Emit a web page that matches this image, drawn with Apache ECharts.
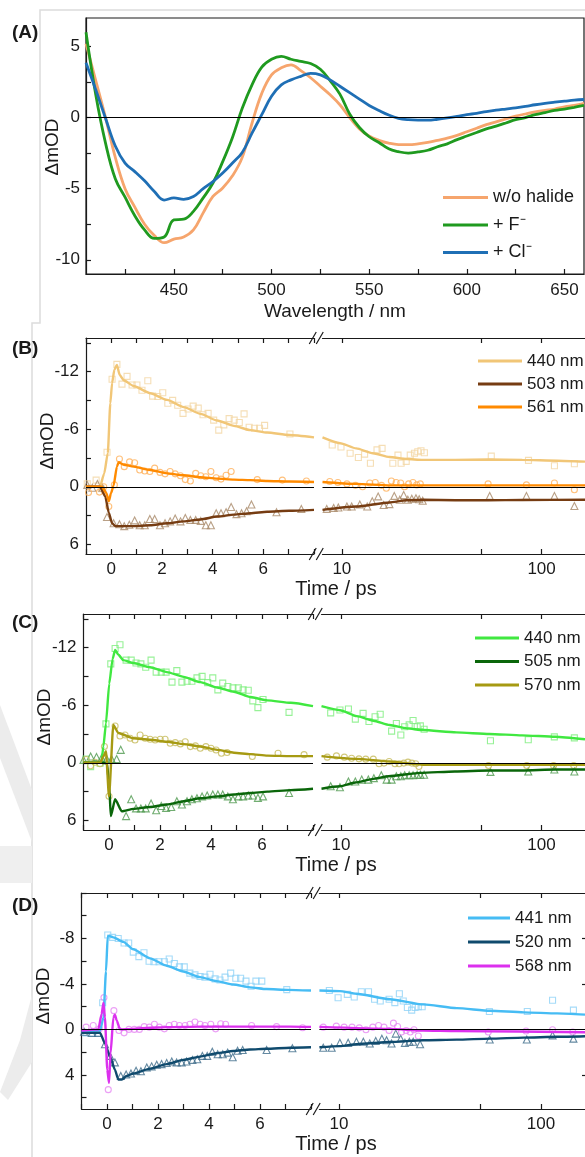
<!DOCTYPE html>
<html>
<head>
<meta charset="utf-8">
<script src="https://cdn.jsdelivr.net/npm/echarts@6.0.0/dist/echarts.min.js"></script>
<style>
  html, body { margin: 0; padding: 0; background: #fff; }
  #chart { width: 585px; height: 1157px; }
</style>
</head>
<body>
<div id="chart"></div>
<script>
// ---- (A) steady spectra ----
const wavelength = [405,410,415,420,425,430,435,440,445,450,455,460,465,470,475,480,485,490,495,500,505,510,515,520,525,530,535,540,545,550,555,560,565,570,575,580,585,590,595,600,605,610,615,620,625,630,635,640,645,650,655,660];
const noHalide = [5.2,2.6,0.0,-2.8,-5.0,-6.3,-7.5,-8.3,-8.8,-8.55,-8.4,-7.9,-6.7,-5.55,-4.95,-4.1,-2.8,-0.4,1.7,3.0,3.5,3.7,3.3,2.8,2.2,1.6,0.9,0.0,-0.8,-1.3,-1.6,-1.8,-1.9,-1.9,-1.85,-1.75,-1.6,-1.45,-1.25,-1.0,-0.75,-0.5,-0.3,-0.1,0.1,0.25,0.4,0.5,0.6,0.75,0.85,1.0];
const withF = [6.0,1.6,-1.8,-4.3,-5.6,-6.9,-7.9,-8.5,-8.4,-7.2,-7.15,-6.6,-5.65,-4.6,-3.1,-1.4,0.65,2.3,3.55,4.1,4.3,4.1,3.95,3.8,3.4,2.6,1.65,0.25,-0.7,-1.35,-1.75,-2.2,-2.4,-2.5,-2.42,-2.3,-2.05,-1.85,-1.55,-1.3,-1.05,-0.8,-0.6,-0.38,-0.15,0.0,0.2,0.35,0.5,0.6,0.72,0.85];
const withCl = [3.85,1.95,-0.05,-2.0,-3.2,-3.8,-4.45,-5.2,-5.8,-5.65,-5.75,-5.55,-5.0,-4.5,-3.9,-3.2,-2.45,-1.1,0.2,1.5,2.3,2.65,2.9,3.1,3.0,2.65,2.2,1.75,1.3,0.85,0.5,0.18,-0.05,-0.15,-0.18,-0.18,-0.12,-0.03,0.08,0.2,0.3,0.42,0.52,0.6,0.68,0.78,0.9,1.0,1.08,1.15,1.22,1.27];

// ---- (B) kinetics: [time ps, dmOD] ----
const b440Fit = [[-1,0],[-0.45,0],[-0.28,-1.4],[-0.14,-3.5],[-0.04,-8.7],[0.03,-10.8],[0.12,-12.2],[0.22,-12.7],[0.33,-11.65],[0.49,-11.1],[0.88,-10.5],[1.54,-9.75],[2.2,-9.05],[2.86,-8.3],[3.52,-7.6],[4.18,-6.9],[4.84,-6.35],[5.49,-5.9],[6.15,-5.65],[7.02,-5.4],[8,-5.15],[9.8,-4.55],[11.8,-4.0],[14.3,-3.5],[17.3,-3.1],[21,-2.9],[25.4,-2.8],[37,-2.8],[54,-2.85],[80,-2.8],[120,-2.72],[165,-2.62]];
const b440Pts = [[-0.95,-0.3],[-0.6,-0.7],[-0.4,0.2],[-0.17,-3.6],[0.03,-11.2],[0.22,-12.75],[0.42,-10.7],[0.62,-11.5],[0.82,-10.6],[1.01,-10.6],[1.21,-10.05],[1.44,-11.05],[1.63,-9.45],[1.83,-9.4],[2.03,-9.8],[2.23,-8.7],[2.42,-9.0],[2.62,-8.5],[2.83,-7.65],[3.03,-8.1],[3.23,-8.4],[3.43,-8.2],[3.62,-7.5],[3.82,-7.65],[4.04,-6.95],[4.24,-5.9],[4.44,-6.45],[4.65,-7.1],[4.85,-6.95],[5.05,-6.7],[5.24,-7.6],[5.44,-6.2],[5.65,-6.1],[5.85,-6.1],[6.05,-6.4],[7.05,-5.5],[8.95,-4.35],[9.9,-4.15],[11.0,-3.5],[12.1,-3.05],[13.0,-3.4],[13.9,-2.45],[15.0,-3.85],[15.9,-4.0],[18.0,-2.45],[19.1,-3.3],[19.8,-2.45],[21.0,-2.65],[22.0,-3.3],[23.1,-3.5],[24.0,-3.65],[24.9,-3.75],[25.9,-3.55],[56,-3.2],[86,-2.75],[116,-2.2],[146,-2.4]];
const b503Fit = [[-1,0],[-0.45,0],[-0.24,1.0],[-0.1,2.7],[0.03,3.8],[0.16,4.1],[0.88,4.1],[1.54,4.0],[2.2,3.8],[2.86,3.6],[3.52,3.4],[4.18,3.1],[4.84,2.9],[5.49,2.75],[6.15,2.6],[7.02,2.5],[8,2.4],[11.8,2.05],[17.3,1.63],[21,1.4],[25.4,1.35],[37,1.4],[54,1.4],[80,1.37],[165,1.35]];
const b503Pts = [[-0.95,-0.2],[-0.75,0.1],[-0.55,-0.3],[-0.35,0.1],[-0.17,3.15],[0.09,3.8],[0.32,3.9],[0.51,4.1],[0.71,3.95],[0.92,3.5],[1.12,4.0],[1.32,4.0],[1.52,3.35],[1.71,3.35],[1.92,4.0],[2.12,3.8],[2.32,3.6],[2.52,3.3],[2.73,3.6],[2.92,3.25],[3.12,3.45],[3.33,3.45],[3.53,3.55],[3.73,4.0],[3.93,4.0],[4.14,2.75],[4.33,2.75],[4.53,2.65],[4.73,2.1],[4.94,2.85],[5.14,2.75],[5.34,2.55],[5.53,1.85],[6.52,2.65],[7.5,2.3],[8.4,2.3],[9.1,2.2],[9.6,2.15],[10.6,2.05],[11.2,2.05],[12.3,1.85],[13.4,2.05],[14.2,1.5],[15.2,1.0],[16.2,1.9],[17.3,1.8],[18.3,0.95],[19.5,1.35],[20.4,0.85],[21.4,1.35],[22.4,1.25],[23.5,1.2],[24.4,1.3],[25.4,1.45],[55,0.95],[84,0.95],[116,0.95],[146,2.0]];
const b561Fit = [[-1,0],[-0.37,0],[-0.2,0.65],[-0.1,1.5],[-0.01,0.65],[0.09,-0.15],[0.22,-2.1],[0.29,-2.55],[0.49,-2.3],[0.88,-2.1],[1.54,-1.75],[2.2,-1.4],[2.86,-1.2],[3.52,-1.0],[4.18,-0.85],[4.84,-0.75],[5.49,-0.7],[6.15,-0.6],[7.02,-0.55],[8,-0.5],[11.8,-0.3],[17.3,-0.15],[25,-0.15],[165,-0.15]];
const b561Pts = [[-0.9,0.6],[-0.47,0.55],[-0.3,0.0],[-0.1,2.05],[0.12,-0.2],[0.32,-2.9],[0.51,-2.1],[0.72,-2.6],[0.92,-2.5],[1.12,-1.75],[1.32,-1.65],[1.52,-1.6],[1.71,-1.95],[1.92,-1.5],[2.12,-1.35],[2.32,-1.6],[2.52,-1.35],[2.73,-1.15],[2.92,-0.75],[3.12,-0.6],[3.33,-1.4],[3.53,-1.15],[3.73,-1.05],[3.93,-1.6],[4.14,-0.95],[4.33,-0.8],[4.53,-1.2],[4.73,-1.6],[5.76,-0.75],[6.75,-0.7],[7.7,-0.6],[8.7,-0.55],[9.55,-0.45],[10.6,-0.3],[11.7,-0.15],[12.7,0.0],[13.8,-0.4],[14.7,-0.45],[15.8,-0.15],[16.7,0.15],[17.7,-0.6],[18.7,-0.45],[19.7,-0.4],[20.6,0.0],[21.6,-0.3],[22.7,-0.45],[23.7,-0.2],[24.7,-0.3],[54,-0.3],[84,-0.2],[116,-0.4],[146,0.3]];

// ---- (C) ----
const c440Fit = [[-1,0],[-0.3,0],[-0.22,-1.7],[-0.12,-4.1],[0.01,-8.25],[0.14,-10.8],[0.24,-11.75],[0.37,-11.25],[0.56,-10.7],[0.96,-10.4],[1.61,-9.95],[2.27,-9.45],[2.93,-8.95],[3.58,-8.4],[4.24,-7.85],[4.9,-7.4],[5.55,-6.85],[6.21,-6.5],[7.13,-6.25],[8,-5.9],[9.9,-5.48],[12,-4.86],[14.5,-4.38],[17.5,-3.93],[21.3,-3.59],[25.7,-3.41],[37.6,-3.17],[55,-3.0],[80,-2.86],[117,-2.72],[165,-2.45]];
const c440Pts = [[-0.9,-0.4],[-0.72,0.4],[-0.35,0.05],[-0.12,-4.05],[0.07,-10.3],[0.24,-11.9],[0.43,-12.3],[0.67,-10.7],[0.87,-10.7],[1.06,-10.4],[1.25,-10.3],[1.44,-9.95],[1.65,-10.7],[1.85,-9.45],[2.05,-9.45],[2.24,-9.45],[2.47,-8.4],[2.66,-9.6],[2.86,-8.4],[3.06,-8.5],[3.25,-8.5],[3.45,-8.85],[3.65,-9.0],[3.87,-8.35],[4.07,-8.85],[4.27,-7.6],[4.46,-8.3],[4.66,-7.95],[4.86,-7.8],[5.07,-7.8],[5.26,-7.6],[5.46,-7.55],[5.64,-6.45],[5.84,-5.75],[6.04,-6.6],[7.06,-5.25],[8.89,-5.2],[9.89,-5.5],[10.9,-5.6],[11.8,-4.55],[12.9,-5.15],[13.8,-4.3],[14.8,-4.8],[15.7,-5.05],[17.9,-3.3],[18.9,-4.1],[19.9,-2.9],[20.8,-3.75],[21.9,-3.95],[22.9,-4.4],[24.0,-3.75],[24.9,-3.85],[26.0,-3.5],[55.7,-2.3],[86,-2.4],[116,-2.7],[146,-2.6]];
const c505Fit = [[-1,0],[-0.3,0],[-0.08,0.05],[0.01,2.45],[0.07,5.55],[0.24,3.8],[0.5,5.05],[0.96,4.8],[1.61,4.6],[2.27,4.35],[2.93,4.0],[3.58,3.7],[4.24,3.5],[4.9,3.3],[5.55,3.15],[6.21,3.0],[7.13,2.85],[8,2.7],[9.9,2.45],[11.8,2.05],[14.3,1.7],[17.3,1.4],[25,1.05],[37,0.9],[55,0.8],[80,0.8],[117,0.7],[165,0.7]];
const c505Pts = [[-1,-0.3],[-0.72,-0.65],[-0.49,-0.6],[-0.29,-0.5],[-0.09,-0.4],[0.1,-0.4],[0.3,-0.4],[0.46,-1.35],[0.67,5.55],[0.87,3.8],[1.06,4.75],[1.25,4.75],[1.44,4.75],[1.65,4.25],[1.85,4.95],[2.05,4.5],[2.24,4.7],[2.44,4.6],[2.66,4.0],[2.86,4.35],[3.06,4.0],[3.25,3.8],[3.45,3.7],[3.65,3.5],[3.85,3.4],[4.07,3.3],[4.27,3.3],[4.46,3.3],[4.66,3.5],[4.86,3.8],[5.07,3.5],[5.26,3.5],[5.46,3.4],[5.64,3.4],[5.84,3.65],[6.04,3.5],[7.06,3.15],[8.89,2.45],[9.89,2.55],[10.9,1.95],[11.8,1.95],[12.7,1.75],[13.7,1.75],[14.6,1.6],[15.9,1.3],[16.9,1.75],[17.9,1.75],[18.9,1.4],[19.9,1.4],[20.8,1.3],[21.9,1.3],[22.9,1.3],[24.0,1.25],[24.9,1.25],[26.0,1.25],[55.7,0.95],[86,0.9],[116,0.7],[146,0.9]];
const c570Fit = [[-1,0],[-0.35,0],[-0.22,-0.65],[-0.12,-1.2],[0.0,3.5],[0.17,-3.95],[0.37,-3.1],[0.96,-2.55],[1.61,-2.4],[2.27,-2.2],[2.93,-1.95],[3.58,-1.7],[4.24,-1.35],[4.9,-1.05],[5.55,-0.9],[6.21,-0.75],[7.13,-0.7],[8,-0.7],[12,-0.41],[17.5,-0.14],[25.7,0.2],[165,0.2]];
const c570Pts = [[-0.9,-0.35],[-0.72,0.3],[-0.55,-0.05],[-0.35,0.1],[-0.18,-1.7],[0.0,3.48],[0.24,-3.83],[0.43,-2.79],[0.63,-2.9],[0.83,-2.55],[1.02,-2.38],[1.22,-2.9],[1.42,-2.55],[1.61,-2.45],[1.81,-2.38],[2.01,-2.45],[2.2,-2.45],[2.4,-2.03],[2.6,-2.1],[2.8,-1.97],[2.99,-2.2],[3.19,-1.69],[3.39,-1.76],[3.58,-1.52],[3.8,-1.69],[4.0,-1.52],[4.2,-1.34],[4.41,-1.0],[4.63,-1.07],[5.62,-0.66],[6.63,-1.0],[7.65,-0.85],[8.55,-0.59],[9.5,-0.72],[10.4,-0.59],[11.3,-0.48],[12.3,-0.41],[13.3,-0.38],[14.5,-0.38],[15.5,0.1],[16.4,0.03],[17.4,-0.14],[18.6,0.1],[19.5,0.1],[20.6,0.03],[21.6,-0.07],[22.6,0.03],[23.6,0.1],[24.5,0.38],[54.5,0.28],[84.5,0.28],[115,0.28],[145,0.28]];

// ---- (D) ----
const d441Fit = [[-1,0.2],[-0.27,0.1],[-0.14,-1.05],[-0.04,-5.1],[0.03,-8.25],[0.25,-8.1],[0.64,-7.7],[1.03,-7.05],[1.69,-6.25],[2.34,-5.6],[2.99,-5.1],[3.65,-4.6],[4.3,-4.25],[4.95,-3.95],[5.61,-3.7],[6.26,-3.55],[7.1,-3.48],[8,-3.42],[10.1,-3.37],[12.2,-3.14],[17.9,-2.65],[26.1,-2.2],[38.3,-1.87],[56,-1.64],[82,-1.5],[120,-1.41],[165,-1.3]];
const d441Pts = [[-0.82,0.3],[-0.56,0.35],[-0.37,0.35],[-0.17,-2.35],[0.03,-8.3],[0.22,-8.1],[0.44,-8.0],[0.67,-7.6],[0.85,-7.6],[1.03,-6.8],[1.25,-6.4],[1.45,-6.75],[1.65,-6.0],[1.84,-5.95],[2.04,-5.95],[2.25,-5.95],[2.44,-6.2],[2.64,-5.8],[2.84,-5.5],[3.03,-5.5],[3.25,-4.95],[3.45,-4.8],[3.65,-4.65],[3.84,-4.6],[4.04,-4.85],[4.24,-4.45],[4.43,-4.35],[4.63,-4.6],[4.85,-4.95],[5.05,-4.5],[5.24,-4.5],[5.45,-4.25],[5.65,-3.8],[5.84,-4.25],[6.07,-4.25],[7.05,-3.5],[8.96,-3.42],[9.9,-2.79],[11.0,-3.08],[11.9,-2.85],[12.9,-3.31],[14.0,-3.31],[15.0,-2.65],[16.0,-2.5],[17.7,-2.65],[18.9,-2.36],[19.9,-3.14],[20.8,-2.5],[21.8,-1.93],[22.9,-1.7],[23.8,-1.93],[24.7,-1.99],[25.8,-1.99],[55.5,-1.58],[85.5,-1.58],[114,-2.56],[144.6,-1.7]];
const d520Fit = [[-1,0.3],[-0.27,0.3],[-0.08,1.24],[0.12,2.4],[0.31,3.54],[0.44,4.4],[0.58,4.4],[0.77,4.1],[1.03,3.88],[1.69,3.45],[2.34,3.05],[2.99,2.68],[3.65,2.39],[4.3,2.1],[4.95,1.9],[5.61,1.76],[6.26,1.7],[7.18,1.61],[8,1.57],[10.1,1.47],[12.2,1.3],[17.9,1.1],[26.1,0.95],[38.3,0.9],[56,0.81],[82,0.72],[120,0.65],[165,0.6]];
const d520Pts = [[-0.9,0.2],[-0.6,0.3],[-0.35,0.3],[-0.08,1.3],[0.12,2.33],[0.31,2.9],[0.54,4.1],[0.75,3.97],[0.94,3.88],[1.14,3.63],[1.33,3.68],[1.56,3.34],[1.75,3.25],[1.95,3.1],[2.14,3.05],[2.34,2.96],[2.54,2.82],[2.73,2.9],[2.93,2.9],[3.12,2.82],[3.35,2.68],[3.54,2.62],[3.74,2.33],[3.93,2.33],[4.13,1.96],[4.34,2.19],[4.54,2.19],[4.73,2.04],[4.93,2.45],[5.12,1.87],[5.32,1.81],[6.26,1.81],[7.27,1.66],[8.36,1.61],[9.2,1.61],[10.1,1.18],[11.1,1.18],[12.2,1.09],[13.2,1.09],[14.2,1.24],[15.2,1.01],[16.3,0.81],[17.2,0.95],[18.2,1.24],[19.1,0.37],[20.2,0.81],[21.2,1.18],[22.3,1.09],[23.3,1.09],[25.2,1.3],[55.7,0.89],[85,0.89],[114,0.52],[144.6,0.81]];
const d568Fit = [[-1,0.1],[-0.34,0.0],[-0.21,-1.35],[-0.14,-2.35],[-0.08,-1.05],[0.01,3.55],[0.08,4.7],[0.14,2.1],[0.25,-1.05],[0.31,-1.3],[0.38,-0.8],[0.51,0.0],[1.03,-0.05],[1.69,-0.15],[2.34,-0.2],[3.65,-0.25],[4.95,-0.25],[7.18,-0.25],[8,-0.22],[17.9,-0.05],[26.1,0.1],[38.3,0.15],[165,0.25]];
const d568Pts = [[-0.82,-0.2],[-0.54,-0.35],[-0.3,-0.05],[-0.12,-2.8],[0.05,5.3],[0.27,-1.65],[0.47,0.1],[0.67,0.3],[0.86,0.0],[1.07,0.0],[1.27,0.0],[1.46,-0.25],[1.66,-0.2],[1.86,-0.45],[2.05,-0.2],[2.25,-0.05],[2.44,-0.35],[2.64,-0.45],[2.84,-0.35],[3.06,-0.35],[3.25,-0.45],[3.45,-0.65],[3.65,-0.45],[3.84,-0.35],[4.07,-0.45],[4.26,-0.05],[4.46,-0.5],[4.65,-0.45],[5.67,-0.35],[6.65,-0.25],[7.67,-0.15],[8.36,-0.2],[9.7,-0.29],[10.6,-0.2],[11.6,-0.2],[12.6,-0.14],[13.6,0.03],[14.7,-0.2],[15.7,-0.35],[16.7,-0.2],[17.7,0.09],[18.6,-0.55],[19.5,-0.26],[20.4,0.23],[21.5,0.09],[22.5,0.23],[23.5,0.03],[24.7,0.58],[54.8,0.23],[84.3,0.14],[114,0.03],[143.5,0.23]];

// ---- ticks ----
const aXTicks = [425,450,475,500,525,550,575,600,625,650];
const aXLabels = [450,500,550,600,650];
const aYTicks = [-10,-7.5,-5,-2.5,0,2.5,5];
const aYLabels = [-10,-5,0,5];
const bcYTicks = [-15,-12,-9,-6,-3,0,3,6];
const bcYLabels = [-12,-6,0,6];
const dYTicks = [-12,-10,-8,-6,-4,-2,0,2,4,6];
const dYLabels = [-8,-4,0,4];
const linLabels = [0,2,4,6];
const logTicks = [10,50,100];
const logLabels = [10,100];

const font = '"Liberation Sans", Arial, Helvetica, sans-serif';
const ink = '#1a1a1a';
const axLine = {show: true, onZero: false, lineStyle: {color: ink, width: 1.2}};
function ticks(vals, len) {
  var o = {show: true, inside: true, length: len || 5, lineStyle: {color: ink, width: 1.2}};
  if (vals) o.customValues = vals;
  return o;
}
function labels(vals, margin) {
  return {show: true, customValues: vals, margin: margin, color: ink, fontSize: 17, fontFamily: font};
}
var zeroLine = {silent: true, symbol: ['none', 'none'], label: {show: false},
  lineStyle: {color: '#000', width: 1, type: 'solid'}, data: [{yAxis: 0}]};

var grids = [], xAxes = [], yAxes = [], series = [], legends = [], graphics = [];

// panel A
grids.push({left: 86, top: 18, width: 498, height: 256, show: true, borderColor: ink, borderWidth: 1.2, backgroundColor: '#fff'});
xAxes.push({type: 'value', gridIndex: 0, min: 405, max: 660, axisLine: axLine, axisTick: ticks(aXTicks), axisLabel: labels(aXLabels, 8), splitLine: {show: false}});
yAxes.push({type: 'value', gridIndex: 0, min: -11, max: 7, axisLine: axLine, axisTick: ticks(aYTicks), axisLabel: labels(aYLabels, 6), splitLine: {show: false}});
[['w/o halide', noHalide, '#F6A56D'], ['+ F\u207B', withF, '#1F9A1F'], ['+ Cl\u207B', withCl, '#1F6FB5']].forEach(function (s, k) {
  series.push({
    type: 'line', name: s[0], xAxisIndex: 0, yAxisIndex: 0,
    data: wavelength.map(function (w, i) { return [w, s[1][i]]; }),
    showSymbol: false, symbol: 'none', smooth: 0.4, silent: true,
    lineStyle: {color: s[2], width: 2.8}, itemStyle: {color: s[2]},
    markLine: k === 0 ? zeroLine : undefined
  });
});
legends.push({left: 438, top: 183.5, orient: 'vertical', icon: 'rect', itemWidth: 45, itemHeight: 3, itemGap: 9.5,
  selectedMode: false, data: ['w/o halide', '+ F\u207B', '+ Cl\u207B'],
  textStyle: {fontSize: 18, color: ink, fontFamily: font}});

// panels B-D
var panels = [
  {label: '(B)', top: 338, height: 216, yMin: -15.5, yMax: 7, yTicks: bcYTicks, yLabels: bcYLabels,
   linLeft: 86, linWidth: 228, logLeft: 322.5, logWidth: 264, rightTicks: null,
   legend: {left: 473, top: 347.5, gap: 6, w: 44}, suffix: '', labelY: 349, titleY: 589, ymodX: 48,
   sets: [
     {name: '440 nm', line: '#F1C677', mark: '#F3D6A2', symbol: 'rect', size: 6, fit: b440Fit, pts: b440Pts},
     {name: '503 nm', line: '#763C12', mark: '#A88868', symbol: 'triangle', size: 7, fit: b503Fit, pts: b503Pts},
     {name: '561 nm', line: '#FF8A00', mark: '#FFB05A', symbol: 'circle', size: 6, fit: b561Fit, pts: b561Pts}]},
  {label: '(C)', top: 614, height: 216, yMin: -15.5, yMax: 7, yTicks: bcYTicks, yLabels: bcYLabels,
   linLeft: 83.5, linWidth: 229.5, logLeft: 321.5, logWidth: 264, rightTicks: null,
   legend: {left: 470, top: 624.5, gap: 6.5, w: 44}, suffix: ' ', labelY: 623, titleY: 865, ymodX: 45,
   sets: [
     {name: '440 nm', line: '#40E840', mark: '#7DEE7D', symbol: 'rect', size: 6, fit: c440Fit, pts: c440Pts},
     {name: '505 nm', line: '#0A660A', mark: '#4E984E', symbol: 'triangle', size: 7, fit: c505Fit, pts: c505Pts},
     {name: '570 nm', line: '#A69A12', mark: '#C6BA5A', symbol: 'circle', size: 6, fit: c570Fit, pts: c570Pts}]},
  {label: '(D)', top: 893, height: 216, yMin: -12, yMax: 7, yTicks: dYTicks, yLabels: dYLabels,
   linLeft: 81.5, linWidth: 229.5, logLeft: 319.4, logWidth: 265.6, rightTicks: [-8, -4, 4],
   legend: {left: 463, top: 904.5, gap: 7, w: 42}, suffix: '  ', labelY: 906, titleY: 1144, ymodX: 44,
   sets: [
     {name: '441 nm', line: '#46BCF4', mark: '#8ED2F6', symbol: 'rect', size: 6, fit: d441Fit, pts: d441Pts},
     {name: '520 nm', line: '#0F4A6D', mark: '#3D6C8A', symbol: 'triangle', size: 7, fit: d520Fit, pts: d520Pts},
     {name: '568 nm', line: '#DC30EE', mark: '#E688F2', symbol: 'circle', size: 6, fit: d568Fit, pts: d568Pts}]}
];

panels.forEach(function (p) {
  var gL = grids.length;
  grids.push({left: p.linLeft, top: p.top, width: p.linWidth, height: p.height});
  grids.push({left: p.logLeft, top: p.top, width: p.logWidth, height: p.height});
  var gR = gL + 1;
  var xL = xAxes.length, xR = xL + 2;
  ['bottom', 'top'].forEach(function (pos) {
    xAxes.push({type: 'value', gridIndex: gL, position: pos, min: -1, max: 8, interval: 1,
      axisLine: axLine, axisTick: ticks(), splitLine: {show: false},
      axisLabel: pos === 'bottom' ? labels(linLabels, 7) : {show: false}});
  });
  ['bottom', 'top'].forEach(function (pos) {
    xAxes.push({type: 'log', logBase: 10, gridIndex: gR, position: pos, min: 8, max: 165,
      axisLine: axLine, axisTick: ticks(logTicks), splitLine: {show: false}, minorTick: {show: false},
      axisLabel: pos === 'bottom' ? labels(logLabels, 7) : {show: false}});
  });
  var yL = yAxes.length, yR = yL + 1;
  yAxes.push({type: 'value', gridIndex: gL, position: 'left', inverse: true, min: p.yMin, max: p.yMax,
    axisLine: axLine, axisTick: ticks(p.yTicks), axisLabel: labels(p.yLabels, 7), splitLine: {show: false}});
  yAxes.push({type: 'value', gridIndex: gR, position: 'right', inverse: true, min: p.yMin, max: p.yMax,
    axisLine: {show: false}, axisTick: p.rightTicks ? ticks(p.rightTicks, 3) : {show: false},
    axisLabel: {show: false}, splitLine: {show: false}});

  var parts = [[xL, yL, function (d) { return d[0] <= 8; }], [xR, yR, function (d) { return d[0] >= 8; }]];
  p.sets.forEach(function (s, k) {
    parts.forEach(function (part) {
      series.push({type: 'scatter', name: s.name + ' pts' + p.suffix, xAxisIndex: part[0], yAxisIndex: part[1],
        data: s.pts.filter(part[2]), symbol: s.symbol, symbolSize: s.size, silent: true, z: 2,
        itemStyle: {color: 'rgba(255,255,255,0)', borderColor: s.mark, borderWidth: 1.1}});
      series.push({type: 'line', name: s.name + p.suffix, xAxisIndex: part[0], yAxisIndex: part[1],
        data: s.fit.filter(part[2]), showSymbol: false, symbol: 'none', smooth: 0.2, smoothMonotone: 'x',
        silent: true, z: 3, lineStyle: {color: s.line, width: 2.4}, itemStyle: {color: s.line},
        markLine: k === 0 ? zeroLine : undefined});
    });
  });
  legends.push({left: p.legend.left, top: p.legend.top, orient: 'vertical', icon: 'rect',
    itemWidth: p.legend.w, itemHeight: 3, itemGap: p.legend.gap, selectedMode: false,
    data: p.sets.map(function (s) { return s.name + p.suffix; }),
    formatter: function (n) { return n.trim(); },
    textStyle: {fontSize: 17, color: ink, fontFamily: font}});

  // panel letter, axis titles, break marks
  graphics.push({type: 'text', x: 12, y: p.labelY, style: {text: p.label, fontSize: 19, fontWeight: 'bold', fontFamily: font, fill: ink, align: 'left', verticalAlign: 'middle'}});
  graphics.push({type: 'text', x: 336, y: p.titleY, style: {text: 'Time / ps', fontSize: 20, fontFamily: font, fill: ink, align: 'center', verticalAlign: 'middle'}});
  graphics.push({type: 'text', x: p.ymodX, y: p.top + p.height / 2 - 5, rotation: Math.PI / 2, style: {text: '\u0394mOD', fontSize: 19, fontFamily: font, fill: ink, align: 'center', verticalAlign: 'middle'}});
  var cx = (p.linLeft + p.linWidth + p.logLeft) / 2;
  [p.top, p.top + p.height].forEach(function (y) {
    [0, 1].forEach(function (i) {
      graphics.push({type: 'line', shape: {x1: cx - 9 + i * 7, y1: y + 6, x2: cx - 2 + i * 7, y2: y - 6},
        style: {stroke: ink, lineWidth: 1.2}});
    });
  });
});

graphics.push({type: 'text', x: 12, y: 33, style: {text: '(A)', fontSize: 19, fontWeight: 'bold', fontFamily: font, fill: ink, align: 'left', verticalAlign: 'middle'}});
graphics.push({type: 'text', x: 335, y: 312, style: {text: 'Wavelength / nm', fontSize: 19, fontFamily: font, fill: ink, align: 'center', verticalAlign: 'middle'}});
graphics.push({type: 'text', x: 53, y: 147, rotation: Math.PI / 2, style: {text: '\u0394mOD', fontSize: 19, fontFamily: font, fill: ink, align: 'center', verticalAlign: 'middle'}});

// faint background frame / watermark pieces
var wm = '#dcdcdc';
graphics.push({type: 'polyline', z: -10, shape: {points: [[585, 10], [40, 10], [40, 323], [32, 323], [32, 1157]]}, style: {stroke: wm, lineWidth: 1.5, fill: null}});
graphics.push({type: 'polygon', z: -10, shape: {points: [[0, 705], [0, 758], [32, 842], [32, 790]]}, style: {fill: '#ececec'}});
graphics.push({type: 'polygon', z: -10, shape: {points: [[0, 846], [32, 846], [32, 883], [0, 883]]}, style: {fill: '#efefef'}});
graphics.push({type: 'polygon', z: -10, shape: {points: [[32, 995], [32, 1062], [8, 1100], [0, 1092], [20, 1040]]}, style: {fill: '#ececec'}});

var chart = echarts.init(document.getElementById('chart'));
chart.setOption({
  backgroundColor: '#fff',
  animation: false,
  grid: grids,
  xAxis: xAxes,
  yAxis: yAxes,
  legend: legends,
  graphic: graphics,
  series: series
});
</script>
</body>
</html>
